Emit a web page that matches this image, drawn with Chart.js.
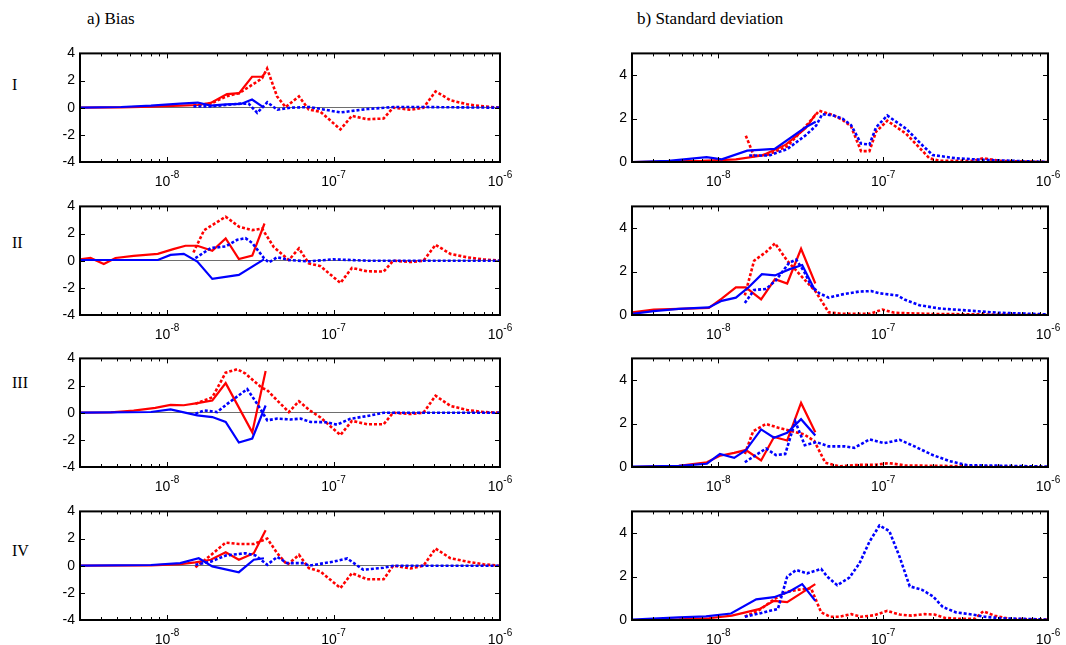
<!DOCTYPE html>
<html><head><meta charset="utf-8">
<script src="https://cdn.jsdelivr.net/npm/chart.js@4.4.1/dist/chart.umd.min.js"></script>
<style>
html,body{margin:0;padding:0;background:#fff;width:1066px;height:645px;overflow:hidden;}
#wrap{position:relative;width:1066px;height:645px;}
canvas{position:absolute;}
.t{position:absolute;font-family:"Liberation Serif","Times New Roman",serif;color:#000;white-space:nowrap;line-height:1;}
</style></head><body><div id="wrap">
<div class="t" style="left:87px;top:10px;font-size:17px;">a) Bias</div>
<div class="t" style="left:637px;top:10px;font-size:17px;">b) Standard deviation</div>
<div class="t" style="left:12px;top:77px;font-size:16px;">I</div>
<div class="t" style="left:12px;top:235px;font-size:16px;">II</div>
<div class="t" style="left:12px;top:375px;font-size:16px;">III</div>
<div class="t" style="left:12px;top:543px;font-size:16px;">IV</div>
</div>
<script>
// ---------- axis ticks ----------
const xRange = [3e-9, 1e-6];
const xMajorTicks = [1e-8, 1e-7, 1e-6];
const xTickBase = '10';
const xTickExponents = ['-8', '-7', '-6'];
const xMinorMultipliers = [2, 3, 4, 5, 6, 7, 8, 9];
const yTicksBias = [-4, -2, 0, 2, 4];
const yTicksStd = [0, 2, 4];

// ---------- data: [diameter (nm), value] ----------
// a) Bias
const biasI_redSolid = [[3,0],[5.3,0.02],[8,0.08],[12,0.15],[15.3,0.2],[18.3,0.35],[22.9,1.0],[27.1,1.07],[32.4,2.28],[37.2,2.28],[38.5,2.5]];
const biasI_redDot = [[14.4,0.2],[18.3,0.3],[22.9,0.85],[27.1,1.07],[32.4,1.68],[37.2,2.16],[39.9,2.88],[45.8,0.83],[51.5,0.04],[62,0.83],[71,-0.13],[83.5,-0.3],[110,-1.6],[129,-0.6],[159,-0.85],[200,-0.8],[228,0],[290,-0.15],[347,0],[410,1.2],[504,0.55],[634,0.25],[796,0.1],[1000,0]];
const biasI_blueSolid = [[3,0],[5.3,0.05],[8,0.15],[12,0.3],[15.3,0.38],[18.3,0.15],[22.5,0.25],[27.8,0.28],[32.4,0.6],[38,0.02]];
const biasI_blueDot = [[14.4,0.1],[18.3,0.1],[22.5,0.2],[27.8,0.3],[30.9,0.3],[34.8,-0.38],[40,0.4],[46,-0.15],[55,0],[72,0.05],[110,-0.35],[159,-0.1],[229,0.05],[333,0.05],[1000,0]];

const biasII_redSolid = [[3,0.1],[3.47,0.2],[4.17,-0.25],[4.9,0.2],[6.3,0.35],[8.8,0.5],[10.9,0.85],[12.9,1.1],[15.2,1.1],[18.7,0.73],[22.5,1.64],[27,0.12],[32.5,0.37],[38.5,2.74]];
const biasII_redDot = [[14.4,0.6],[16.7,2.25],[22.5,3.24],[27.1,2.5],[32.5,2.25],[37.2,2.37],[43.8,1.0],[53.9,0.05],[62,0.9],[71,-0.2],[83.5,-0.4],[110,-1.64],[129,-0.53],[159,-0.78],[200,-0.8],[228,0],[290,-0.1],[347,0],[410,1.17],[504,0.5],[634,0.25],[796,0.1],[1000,0]];
const biasII_blueSolid = [[3,0.05],[8.8,0.05],[10.5,0.43],[12.6,0.5],[15.2,-0.07],[18.7,-1.34],[27,-1.05],[38.2,0.1]];
const biasII_blueDot = [[14.8,0.19],[18.3,0.93],[22.5,1.05],[26.4,1.54],[29.6,1.66],[32.5,1.3],[38.2,0.19],[40.9,-0.13],[45.9,0.26],[53.9,0.05],[71,-0.05],[100,0.1],[159,0],[1000,0]];

const biasIII_redSolid = [[3,0],[4.6,0.03],[6.3,0.15],[8.5,0.35],[10.5,0.58],[12.6,0.55],[15.2,0.7],[18.7,0.9],[22.5,2.18],[32.5,-1.45],[39.1,3.07]];
const biasIII_redDot = [[14.8,0.65],[18.7,1.13],[22.5,2.95],[26.4,3.2],[29.6,2.88],[37.2,1.82],[39.9,1.67],[45.9,0.9],[53.9,0.05],[62,0.84],[72,0.17],[83.5,-0.35],[110,-1.65],[129,-0.6],[159,-0.85],[200,-0.85],[228,0],[290,-0.1],[347,0],[410,1.25],[504,0.5],[634,0.2],[796,0.05],[1000,0]];
const biasIII_blueSolid = [[3,0],[8,0.05],[10.5,0.24],[15.2,-0.2],[18.7,-0.32],[22.5,-0.68],[27,-2.2],[32.5,-1.9],[39.1,0.53]];
const biasIII_blueDot = [[14.8,-0.08],[16.7,0.17],[20,0.05],[23,0.65],[30.3,1.74],[34.8,0.65],[40,-0.56],[45.9,-0.44],[55.2,-0.5],[63.4,-0.44],[72.8,-0.68],[90,-0.7],[105,-0.88],[126,-0.45],[159,-0.25],[200,0],[1000,0]];

const biasIV_redSolid = [[3,0],[8,0.03],[12,0.12],[14.8,0.24],[18.3,0.44],[22.5,0.99],[27,0.44],[33.2,0.92],[39.1,2.62]];
const biasIV_redDot = [[14.8,-0.12],[17.4,0.55],[22.5,1.7],[27,1.6],[33.2,1.6],[40,2.0],[45.9,0.92],[52.7,0.07],[62,0.8],[71,-0.17],[83.5,-0.43],[110,-1.65],[129,-0.55],[159,-1.0],[200,-1.0],[228,0],[290,-0.2],[347,0],[410,1.26],[504,0.55],[634,0.3],[796,0.1],[1000,0]];
const biasIV_blueSolid = [[3,0],[8,0.05],[12,0.19],[15.5,0.55],[18.7,-0.05],[27,-0.48],[33.2,0.44],[38.2,0.55]];
const biasIV_blueDot = [[14.8,0.07],[18.3,0.3],[22.5,0.75],[29.6,0.92],[34,0.75],[40,0.07],[45.9,0.65],[52.7,0.19],[66.3,0.19],[71,0],[100,0.3],[121,0.53],[151,-0.3],[200,-0.15],[229,0],[1000,0]];

// b) Standard deviation
const stdI_redSolid = [[3,0],[8,0.05],[12.8,0.12],[18.5,0.3],[25.7,0.8],[33.9,1.55],[39,2.2]];
const stdI_redDot = [[14.7,1.21],[16.5,0.27],[20.3,0.35],[26.3,0.73],[33.9,1.64],[41,2.36],[49.4,2.17],[56.7,1.94],[63.9,1.64],[73.5,0.5],[82.6,0.5],[90.7,1.4],[106,1.9],[138,1.3],[191,0.17],[220,0.05],[350,0.05],[405,0.17],[510,0.05],[1000,0]];
const stdI_blueSolid = [[3,0],[5,0.05],[8.5,0.22],[10.5,0.12],[15,0.52],[22,0.6],[33.9,1.6],[39,1.85]];
const stdI_blueDot = [[15.4,0.3],[20.3,0.3],[26.3,0.6],[33.9,1.23],[39.3,1.68],[42.7,2.2],[49.4,2.15],[56.7,2.0],[63.9,1.7],[73.5,0.85],[82.6,0.8],[90.7,1.6],[106,2.14],[138,1.53],[173,0.77],[200,0.32],[277,0.17],[405,0.1],[1000,0]];

const stdII_redSolid = [[3,0.12],[4.06,0.25],[5.77,0.28],[8.78,0.33],[10.5,0.75],[12.8,1.27],[14.7,1.27],[18.2,0.72],[22.1,1.65],[26.2,1.45],[31.8,3.05],[38.8,1.45]];
const stdII_redDot = [[14.5,0.9],[16.5,2.5],[19.5,2.9],[22.1,3.3],[26.2,2.5],[31.8,1.8],[38.8,1.1],[46.8,0.12],[56.6,0.05],[82.6,0.05],[99,0.25],[117,0.1],[191,0.05],[1000,0]];
const stdII_blueSolid = [[3,0.05],[4.06,0.18],[5.77,0.28],[8.78,0.35],[10.5,0.65],[12.8,0.8],[15.4,1.3],[18.4,1.88],[22.1,1.82],[26.9,2.1],[32.3,2.3],[38.8,1.1]];
const stdII_blueDot = [[14.5,0.55],[16.5,1.15],[19.5,1.2],[22.4,1.6],[26.9,2.4],[29.7,2.55],[33.2,2.0],[36.6,1.35],[41,1.0],[46.8,0.8],[56.6,0.95],[71.8,1.08],[84.9,1.1],[95,1.0],[122,0.9],[136,0.7],[166,0.45],[220,0.3],[335,0.2],[510,0.1],[1000,0.03]];

const stdIII_redSolid = [[3,0],[5.77,0.05],[8.54,0.22],[10.24,0.52],[12.5,0.65],[14.7,0.78],[18.2,0.3],[21.8,1.38],[26.2,1.22],[31.8,2.95],[38.8,1.6]];
const stdIII_redDot = [[14.5,0.6],[16.3,1.65],[19.5,1.98],[23.4,1.8],[28.1,1.65],[33.2,1.5],[38.2,1.2],[44.6,0.2],[54.2,0.03],[71.8,0.1],[88.5,0.1],[109,0.18],[136,0.07],[1000,0]];
const stdIII_blueSolid = [[3,0.02],[5.77,0.05],[8.54,0.15],[10.24,0.6],[12.5,0.42],[14.7,0.77],[18.2,1.73],[21.8,1.35],[26.2,1.58],[31.8,2.2],[38.8,1.45]];
const stdIII_blueDot = [[14.5,0.22],[19.5,0.85],[22.4,0.55],[25.5,0.6],[29.3,2.1],[33.5,1.0],[39.3,1.15],[46.8,0.95],[58.2,0.95],[66.9,0.88],[82.6,1.27],[102,1.1],[126,1.25],[155,0.95],[200,0.55],[253,0.27],[326,0.08],[510,0.06],[1000,0.02]];

const stdIV_redSolid = [[3,0],[5.77,0.03],[8.78,0.08],[12.1,0.2],[17.7,0.5],[21.8,0.88],[26.2,0.82],[38.8,1.65]];
const stdIV_redDot = [[14.5,0.15],[17.7,0.45],[21.8,0.95],[26.2,1.3],[31,1.4],[36.6,1.45],[42.1,0.35],[47.8,0.15],[54.2,0.15],[64.2,0.27],[73.8,0.15],[88.5,0.22],[106,0.42],[126,0.25],[149,0.2],[178,0.27],[205,0.25],[236,0.1],[291,0.05],[359,0.05],[405,0.4],[475,0.2],[586,0.05],[1000,0.02]];
const stdIV_blueSolid = [[3,0.02],[5.77,0.12],[8.42,0.17],[11.95,0.3],[17,0.95],[21.8,1.05],[26.9,1.3],[32.3,1.65],[38.8,0.88]];
const stdIV_blueDot = [[14.5,0.15],[17.7,0.3],[21.3,0.45],[23,0.5],[26.2,2.0],[29.7,2.3],[34.6,2.15],[42.1,2.35],[45.8,2.0],[52.7,1.6],[62.4,1.95],[71.8,2.6],[82.6,3.6],[95,4.35],[109,4.1],[126,2.9],[145,1.55],[171,1.4],[200,1.1],[230,0.6],[277,0.35],[349,0.25],[413,0.15],[510,0.08],[1000,0.02]];

// ---------- panels ----------
const panels = [
  {col:0,row:0,s:[biasI_blueSolid,biasI_blueDot,biasI_redSolid,biasI_redDot]},
  {col:0,row:1,s:[biasII_blueSolid,biasII_blueDot,biasII_redSolid,biasII_redDot]},
  {col:0,row:2,s:[biasIII_blueSolid,biasIII_blueDot,biasIII_redSolid,biasIII_redDot]},
  {col:0,row:3,s:[biasIV_blueSolid,biasIV_blueDot,biasIV_redSolid,biasIV_redDot]},
  {col:1,row:0,s:[stdI_blueSolid,stdI_blueDot,stdI_redSolid,stdI_redDot]},
  {col:1,row:1,s:[stdII_blueSolid,stdII_blueDot,stdII_redSolid,stdII_redDot]},
  {col:1,row:2,s:[stdIII_blueSolid,stdIII_blueDot,stdIII_redSolid,stdIII_redDot]},
  {col:1,row:3,s:[stdIV_blueSolid,stdIV_blueDot,stdIV_redSolid,stdIV_redDot]}
];

const RED = '#ff0000', BLUE = '#0000ff';
const styles = [
  {c:BLUE, dash:[], w:2.2},
  {c:BLUE, dash:[3,2], w:2.6},
  {c:RED, dash:[], w:2.2},
  {c:RED, dash:[3,2], w:2.6}
];

const ROW_TOPS = [52, 205, 357, 510];
const PLOT_H = 110, PAD_TOP = 12, X_AXIS_H = 30, Y_AXIS_W = 60;
const COLS = [{canvasLeft:20, width:530, padRight:50}, {canvasLeft:572, width:494, padRight:18}];
const FAMILY = '"Liberation Sans", Arial, Helvetica, sans-serif';
const FONT = {family: FAMILY, size: 14};

const framePlugin = {
  id:'frame',
  afterDatasetsDraw(chart){
    const {ctx, chartArea:{left,right,top,bottom}, scales:{x,y}} = chart;
    ctx.save();
    ctx.strokeStyle = '#000';
    ctx.lineWidth = 1;
    ctx.beginPath();
    for (let e = -9; e <= -7; e++) {
      for (const m of [1].concat(xMinorMultipliers)) {
        const v = m * Math.pow(10, e);
        if (v < xRange[0]*0.999 || v > xRange[1]*1.001) continue;
        const px = Math.round(x.getPixelForValue(v)) + 0.5;
        const len = m === 1 ? 5 : 3;
        ctx.moveTo(px, top); ctx.lineTo(px, top + len);
        ctx.moveTo(px, bottom); ctx.lineTo(px, bottom - len);
      }
    }
    for (const t of y.ticks) {
      const py = Math.round(y.getPixelForValue(t.value)) + 0.5;
      ctx.moveTo(left, py); ctx.lineTo(left + 5, py);
      ctx.moveTo(right, py); ctx.lineTo(right - 5, py);
    }
    ctx.stroke();
    ctx.lineWidth = 2;
    ctx.strokeRect(left, top, right - left, bottom - top);
    // x tick labels: "10" with raised exponent
    ctx.fillStyle = '#000';
    ctx.textBaseline = 'alphabetic';
    ctx.textAlign = 'left';
    xMajorTicks.forEach((v, k) => {
      const px = x.getPixelForValue(v);
      ctx.font = '14px ' + FAMILY;
      const w1 = ctx.measureText(xTickBase).width;
      ctx.font = '10px ' + FAMILY;
      const w2 = ctx.measureText(xTickExponents[k]).width;
      const x0 = px - (w1 + w2) / 2;
      ctx.font = '14px ' + FAMILY;
      ctx.fillText(xTickBase, x0, bottom + 24);
      ctx.font = '10px ' + FAMILY;
      ctx.fillText(xTickExponents[k], x0 + w1, bottom + 16);
    });
    ctx.restore();
  }
};

const wrap = document.getElementById('wrap');
panels.forEach(p => {
  const geo = COLS[p.col];
  const isBias = p.col === 0;
  const yT = isBias ? yTicksBias : yTicksStd;
  const cv = document.createElement('canvas');
  const h = PAD_TOP + PLOT_H + X_AXIS_H;
  cv.width = geo.width; cv.height = h;
  cv.style.left = geo.canvasLeft + 'px';
  cv.style.top = (ROW_TOPS[p.row] - PAD_TOP) + 'px';
  cv.style.width = geo.width + 'px'; cv.style.height = h + 'px';
  wrap.appendChild(cv);
  const datasets = p.s.map((pts, i) => ({
    data: pts.map(([d, v]) => ({x: d * 1e-9, y: v})),
    borderColor: styles[i].c,
    borderWidth: styles[i].w,
    borderDash: styles[i].dash,
    borderCapStyle: 'butt',
    borderJoinStyle: 'miter',
    fill: false, pointRadius: 0, tension: 0
  }));
  new Chart(cv, {
    type: 'line',
    data: {datasets},
    options: {
      responsive: false, animation: false, devicePixelRatio: 1,
      layout: {padding: {left: 0, right: geo.padRight, top: PAD_TOP, bottom: 0}},
      plugins: {legend: {display: false}, tooltip: {enabled: false}},
      scales: {
        x: {
          type: 'logarithmic', min: xRange[0], max: xRange[1],
          grid: {display: false, drawTicks: false},
          border: {display: false},
          afterBuildTicks(s){ s.ticks = xMajorTicks.map(v => ({value: v, major: true})); },
          afterFit(s){ s.height = X_AXIS_H; },
          ticks: {display: false, autoSkip: false, maxRotation: 0, minRotation: 0}
        },
        y: {
          min: yT[0], max: isBias ? 4 : 5,
          grid: {
            display: isBias, drawTicks: false, drawOnChartArea: true, lineWidth: 1,
            color: (c) => (c.tick && c.tick.value === 0) ? '#6e6e6e' : 'rgba(0,0,0,0)'
          },
          border: {display: false},
          afterBuildTicks(s){ s.ticks = yT.map(v => ({value: v})); },
          afterFit(s){ s.width = Y_AXIS_W; },
          ticks: {padding: 5, color: '#000', font: FONT, callback: (v) => String(v)}
        }
      }
    },
    plugins: [framePlugin]
  });
});
</script></body></html>
